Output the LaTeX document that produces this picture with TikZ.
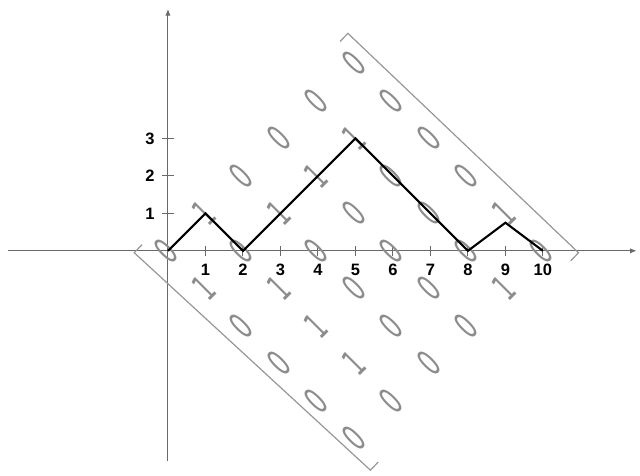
\documentclass[tikz,border=0pt]{standalone}
\usepackage{graphicx}
\usepackage{fontspec}
\newfontfamily\labelfont{Liberation Sans}
\newfontfamily\entryfont{DejaVu Sans}
\usetikzlibrary{arrows.meta, calc}
\definecolor{axisgray}{RGB}{105,105,105}
\definecolor{boxgray}{RGB}{150,150,150}
\definecolor{digitgray}{RGB}{140,140,140}

\begin{document}
\begin{tikzpicture}[
    axis/.style={axisgray, line width=0.8pt},
    ticklabel/.style={font={\labelfont\bfseries\fontsize{12.5}{14}\selectfont}},
    entry/.style={digitgray, rotate=45, inner sep=0pt, font={\entryfont\fontsize{28}{28}\selectfont}},
    bracket/.style={boxgray, line width=0.9pt},
    pathline/.style={black, line width=1.6pt}]
  \useasboundingbox (-4.48,-6.0) rectangle (12.59,6.69);
  % axes
  \draw[axis, -{Latex[length=5pt,width=4pt]}] (-4.27,0) -- (12.5,0);
  \draw[axis, -{Latex[length=5pt,width=4pt]}] (0,-5.6) -- (0,6.45);
  \foreach \i in {1,...,10} {
    \draw[axis] (\i,-0.13) -- (\i,0.13);
    \node[ticklabel] (x\i) at (\i,-0.5) {\i};
  }
  \foreach \i in {1,2,3} {
    \draw[axis] (-0.15,\i) -- (0.15,\i);
    \node[ticklabel] (y\i) at (-0.48,\i) {\i};
  }
  % matrix entries, rows running up-right
  \foreach \r/\row in {0/{0,1,0,0,0,0}, 1/{1,0,1,1,1,0}, 2/{0,1,0,0,0,0},
                       3/{0,1,0,0,0,0}, 4/{0,1,0,0,0,1}, 5/{0,0,0,0,1,0}} {
    \foreach \v [count=\c from 0] in \row {
      \node[entry] (m\r\c) at ({\c+\r-0.05},{\c-\r}) {\scalebox{0.6}[1]{\v}};
    }
  }
  % brackets
  \coordinate (L) at (-0.9,-0.05);
  \coordinate (B) at (5.4,-5.85);
  \coordinate (T) at (4.8,5.8);
  \coordinate (R) at (10.95,-0.05);
  \draw[bracket] ($(L)!0.3cm!(T)$) -- (L) -- (B) -- ($(B)!0.3cm!(R)$);
  \draw[bracket] ($(T)!0.3cm!(L)$) -- (T) -- (R) -- ($(R)!0.3cm!(B)$);
  % path
  \draw[pathline] (0,0) -- (1,1) -- (2,0) -- (5,3) -- (8,0) -- (9,0.75) -- (10,0);
\end{tikzpicture}
\end{document}
